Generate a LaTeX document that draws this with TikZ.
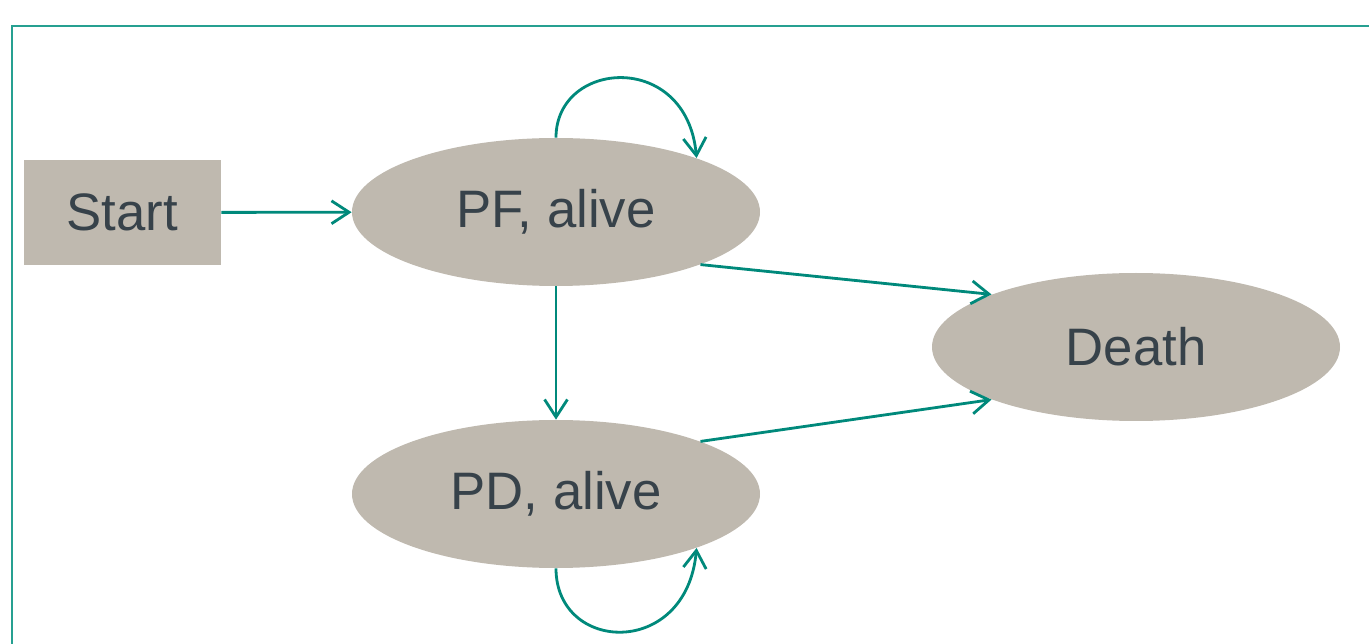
\documentclass[tikz,border=0pt]{standalone}
\usepackage{fontspec}
\setmainfont{Liberation Sans}
\usetikzlibrary{shapes.geometric,arrows.meta}
\definecolor{petrol}{RGB}{0,137,123}
\definecolor{rahmenfarbe}{RGB}{38,160,145}
\definecolor{taupe}{RGB}{191,185,175}
\definecolor{schrift}{RGB}{55,66,74}
\tikzset{% 
		zustand/.style={ellipse,fill=taupe,text=schrift,inner sep=0pt,minimum width=8.16cm,minimum height=2.96cm,font=\fontsize{30}{36}\selectfont},
		startfeld/.style={rectangle,fill=taupe,text=schrift,inner sep=0pt,minimum width=3.94cm,minimum height=2.1cm,font=\fontsize{30}{36}\selectfont},
		pfeil/.style={draw,color=petrol,line width=1.6pt,-{Straight Barb[length=10pt,width=13pt]}},
		rahmen/.style={draw,color=rahmenfarbe,line width=1.1pt}
	}

\begin{document}
\begin{tikzpicture}
    \useasboundingbox (0,0) rectangle (27.38,-12.88);
    \draw[rahmen] (0.24,-12.88) -- (0.24,-0.52) -- (27.38,-0.52) ;
    \node[startfeld] (start) at (2.45,-4.25) {Start};
    \node[zustand] (pf) at (11.12,-4.24) {PF, alive};
    \node[zustand] (pd) at (11.12,-9.88) {PD, alive};
    \node[zustand] (death) at (22.72,-6.94) {Death};
    \draw[pfeil] (start) -- (pf) ;
    \draw[pfeil] (pf) -- (pd) ;
    \draw[pfeil] (pf.-20) -- (death.160) ;
    \draw[pfeil] (pd.20) -- (death.200) ;
    \draw[pfeil] (pf.north) .. controls +(0,1.56) and +(-0.2,2.16) .. (pf.21) ;
    \draw[pfeil] (pd.south) .. controls +(0,-1.7) and +(-0.2,-2.22) .. (pd.-21) ;
\end{tikzpicture}
\end{document}
